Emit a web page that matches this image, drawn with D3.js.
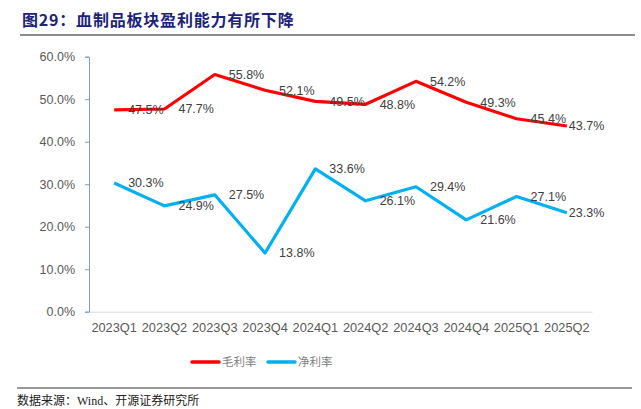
<!DOCTYPE html>
<html>
<head>
<meta charset="utf-8">
<script src="https://cdn.jsdelivr.net/npm/d3@7"></script>
<style>
  body { margin: 0; background: #fff; }
  svg { display: block; }
</style>
</head>
<body>
<svg width="641" height="409"></svg>
<script>
// data
const quarters = ["2023Q1", "2023Q2", "2023Q3", "2023Q4", "2024Q1", "2024Q2", "2024Q3", "2024Q4", "2025Q1", "2025Q2"];
const grossMargin = [47.5, 47.7, 55.8, 52.1, 49.5, 48.8, 54.2, 49.3, 45.4, 43.7];
const netMargin = [30.3, 24.9, 27.5, 13.8, 33.6, 26.1, 29.4, 21.6, 27.1, 23.3];
const yTicks = [0, 10, 20, 30, 40, 50, 60];
const seriesNames = ["毛利率", "净利率"];

const svg = d3.select("svg");
const numFont = "'Liberation Sans', Arial, sans-serif";
const cjkFont = "'Noto Sans CJK SC', sans-serif";

// title + rule
svg.append("text")
    .attr("x", 22).attr("y", 26)
    .attr("fill", "#1c237a")
    .attr("font-family", cjkFont)
    .attr("font-weight", "bold")
    .attr("font-size", 16)
    .attr("letter-spacing", 0.8)
    .text("图29：血制品板块盈利能力有所下降");

svg.append("line")
    .attr("x1", 20).attr("x2", 635)
    .attr("y1", 35).attr("y2", 35)
    .attr("stroke", "#8c8c8c").attr("stroke-width", 2);

const x = d3.scaleBand().domain(quarters).range([89, 592]);
const y = d3.scaleLinear().domain([0, 60]).range([311.7, 56.7]);
const cx = d => x(d) + x.bandwidth() / 2;

// x axis
const gx = svg.append("g")
    .attr("transform", `translate(0,${y(0)})`)
    .call(d3.axisBottom(x).tickSize(0).tickPadding(11));
gx.select(".domain").attr("stroke", "#d9d9d9");
gx.selectAll("text")
    .attr("fill", "#595959")
    .attr("font-family", numFont)
    .attr("font-size", 12.8);

// y axis
const gy = svg.append("g")
    .attr("transform", `translate(89,0)`)
    .call(d3.axisLeft(y).tickValues(yTicks).tickSize(4).tickPadding(10)
        .tickFormat(d => d.toFixed(1) + "%"));
gy.select(".domain").attr("stroke", "#7f9bd3");
gy.selectAll(".tick line").attr("stroke", "#7f9bd3");
gy.selectAll("text")
    .attr("fill", "#595959")
    .attr("font-family", numFont)
    .attr("font-size", 12.5);

const series = [
    { name: seriesNames[0], values: grossMargin, color: "#ff0000" },
    { name: seriesNames[1], values: netMargin, color: "#00b0f0" }
];

const line = d3.line()
    .x((d, i) => cx(quarters[i]))
    .y(d => y(d));

series.forEach(s => {
    svg.append("path")
        .datum(s.values)
        .attr("fill", "none")
        .attr("stroke", s.color)
        .attr("stroke-width", 3.2)
        .attr("stroke-linejoin", "round")
        .attr("d", line);
});

// data labels, to the right of each point
series.forEach(s => {
    svg.append("g").selectAll("text")
        .data(s.values)
        .enter().append("text")
        .attr("x", (d, i) => cx(quarters[i]) + (i === quarters.length - 1 ? 2 : 14))
        .attr("y", d => y(d))
        .attr("dy", "0.35em")
        .attr("fill", "#404040")
        .attr("font-family", numFont)
        .attr("font-size", 12.5)
        .text(d => d.toFixed(1) + "%");
});

// legend
const legend = svg.append("g").attr("transform", "translate(0,362)");
series.forEach((s, i) => {
    const lx = 192 + i * 76;
    legend.append("line")
        .attr("x1", lx).attr("x2", lx + 27)
        .attr("stroke", s.color).attr("stroke-width", 3.5)
        .attr("stroke-linecap", "round");
    legend.append("text")
        .attr("x", lx + 30).attr("dy", "0.36em")
        .attr("fill", "#7f7f7f")
        .attr("font-family", cjkFont)
        .attr("font-size", 11.5)
        .text(s.name);
});

// source note
svg.append("line")
    .attr("x1", 17).attr("x2", 632)
    .attr("y1", 388).attr("y2", 388)
    .attr("stroke", "#333").attr("stroke-width", 1);

svg.append("text")
    .attr("x", 17).attr("y", 405)
    .attr("fill", "#222")
    .attr("font-family", "'Liberation Serif', 'Noto Sans CJK SC', serif")
    .attr("font-size", 12)
    .text("数据来源：Wind、开源证券研究所");
</script>
</body>
</html>
